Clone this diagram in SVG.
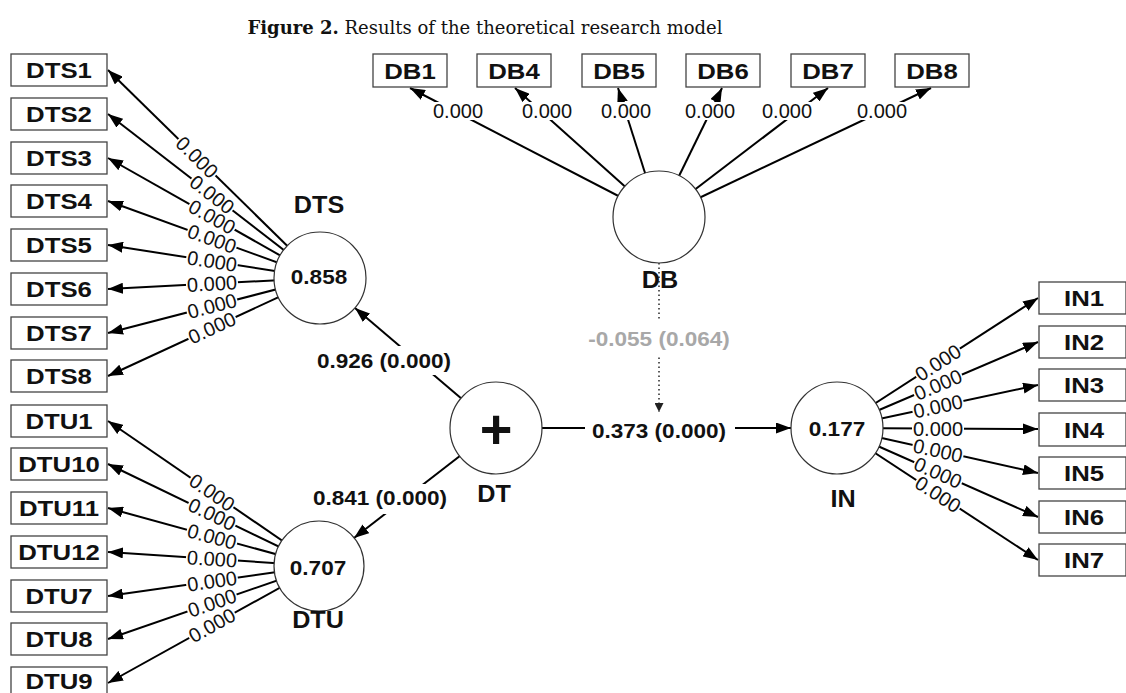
<svg xmlns="http://www.w3.org/2000/svg" width="1126" height="693" viewBox="0 0 1126 693">
  <defs>
    <marker id="arr" markerWidth="15" markerHeight="11" refX="15" refY="5.5" orient="auto" markerUnits="userSpaceOnUse">
      <path d="M0,0 L15,5.5 L0,11 z" fill="#000"/>
    </marker>
    <marker id="arrS" markerWidth="9" markerHeight="9" refX="9" refY="4.5" orient="auto" markerUnits="userSpaceOnUse">
      <path d="M0,0 L9,4.5 L0,9 z" fill="#222"/>
    </marker>
  </defs>
  <style>
    .box { fill: #fff; stroke: #444; stroke-width: 1.3; }
    .bt { font-family: "Liberation Sans", Arial, sans-serif; font-weight: bold; font-size: 23px; fill: #111; text-anchor: middle; }
    .lv { fill: #fff; stroke: #333; stroke-width: 1.2; }
    .name { font-family: "Liberation Sans", Arial, sans-serif; font-weight: bold; font-size: 24px; fill: #111; text-anchor: middle; }
    .val { font-family: "Liberation Sans", Arial, sans-serif; font-weight: bold; font-size: 20.5px; fill: #111; text-anchor: middle; }
    .ln { stroke: #000; stroke-width: 2; fill: none; marker-end: url(#arr); }
    .dot { stroke: #333; stroke-width: 1.6; stroke-dasharray: 1.5 3; fill: none; marker-end: url(#arrS); }
    .bg { fill: #fff; }
    .w { font-family: "Liberation Sans", Arial, sans-serif; font-size: 20px; fill: #111; text-anchor: middle; }
    .path { font-family: "Liberation Sans", Arial, sans-serif; font-weight: bold; font-size: 20.5px; fill: #111; text-anchor: middle; }
    .grey { fill: #a8a8a8; }
    .title { font-family: "DejaVu Serif", "Liberation Serif", serif; font-size: 18px; fill: #111; text-anchor: middle; }
  </style>

  <rect width="1126" height="693" fill="#fff"/>

  <text class="title" x="485" y="34"><tspan font-weight="bold">Figure 2.</tspan> Results of the theoretical research model</text>

  <!-- connectors: loadings, paths and moderating effect -->
  <g id="connectors">
    <!-- DTS loadings -->
    <line class="ln" x1="320" y1="278" x2="108" y2="70"/>
    <line class="ln" x1="320" y1="278" x2="108" y2="114"/>
    <line class="ln" x1="320" y1="278" x2="108" y2="158"/>
    <line class="ln" x1="320" y1="278" x2="108" y2="201"/>
    <line class="ln" x1="320" y1="278" x2="108" y2="245"/>
    <line class="ln" x1="320" y1="278" x2="108" y2="289"/>
    <line class="ln" x1="320" y1="278" x2="108" y2="333"/>
    <line class="ln" x1="320" y1="278" x2="108" y2="376"/>
    <!-- DTU loadings -->
    <line class="ln" x1="319" y1="566" x2="108" y2="421"/>
    <line class="ln" x1="319" y1="566" x2="108" y2="464"/>
    <line class="ln" x1="319" y1="566" x2="108" y2="508"/>
    <line class="ln" x1="319" y1="566" x2="108" y2="552"/>
    <line class="ln" x1="319" y1="566" x2="108" y2="596"/>
    <line class="ln" x1="319" y1="566" x2="108" y2="639"/>
    <line class="ln" x1="319" y1="566" x2="108" y2="683"/>
    <!-- DB loadings -->
    <line class="ln" x1="659" y1="217" x2="410" y2="88"/>
    <line class="ln" x1="659" y1="217" x2="515" y2="88"/>
    <line class="ln" x1="659" y1="217" x2="618" y2="88"/>
    <line class="ln" x1="659" y1="217" x2="722" y2="88"/>
    <line class="ln" x1="659" y1="217" x2="828" y2="88"/>
    <line class="ln" x1="659" y1="217" x2="931" y2="88"/>
    <!-- IN loadings -->
    <line class="ln" x1="837" y1="428" x2="1038" y2="298"/>
    <line class="ln" x1="837" y1="428" x2="1038" y2="342"/>
    <line class="ln" x1="837" y1="428" x2="1038" y2="385"/>
    <line class="ln" x1="837" y1="428" x2="1038" y2="429"/>
    <line class="ln" x1="837" y1="428" x2="1038" y2="473"/>
    <line class="ln" x1="837" y1="428" x2="1038" y2="517"/>
    <line class="ln" x1="837" y1="428" x2="1038" y2="560"/>
    <!-- structural paths -->
    <line class="ln" x1="496" y1="428" x2="355" y2="308"/>
    <line class="ln" x1="496" y1="428" x2="354" y2="538"/>
    <line class="ln" x1="496" y1="428" x2="791" y2="428"/>
    <line class="dot" x1="659" y1="263" x2="659" y2="412"/>

    <!-- DTS loading labels -->
    <g transform="translate(197,157.3) rotate(44.5)"><rect class="bg" x="-26" y="-8" width="52" height="16"/><text class="w" y="7">0.000</text></g>
    <g transform="translate(212,194.5) rotate(37.7)"><rect class="bg" x="-26" y="-8" width="52" height="16"/><text class="w" y="7">0.000</text></g>
    <g transform="translate(212,216.9) rotate(29.5)"><rect class="bg" x="-26" y="-8" width="52" height="16"/><text class="w" y="7">0.000</text></g>
    <g transform="translate(212,238.8) rotate(20)"><rect class="bg" x="-26" y="-8" width="52" height="16"/><text class="w" y="7">0.000</text></g>
    <g transform="translate(212,261.2) rotate(8.9)"><rect class="bg" x="-26" y="-8" width="52" height="16"/><text class="w" y="7">0.000</text></g>
    <g transform="translate(212,283.6) rotate(-3)"><rect class="bg" x="-26" y="-8" width="52" height="16"/><text class="w" y="7">0.000</text></g>
    <g transform="translate(212,306) rotate(-14.5)"><rect class="bg" x="-26" y="-8" width="52" height="16"/><text class="w" y="7">0.000</text></g>
    <g transform="translate(212,327.9) rotate(-24.8)"><rect class="bg" x="-26" y="-8" width="52" height="16"/><text class="w" y="7">0.000</text></g>
    <!-- DTU loading labels -->
    <g transform="translate(212,492.5) rotate(34.5)"><rect class="bg" x="-26" y="-8" width="52" height="16"/><text class="w" y="7">0.000</text></g>
    <g transform="translate(212,514.3) rotate(25.8)"><rect class="bg" x="-26" y="-8" width="52" height="16"/><text class="w" y="7">0.000</text></g>
    <g transform="translate(212,536.6) rotate(15.4)"><rect class="bg" x="-26" y="-8" width="52" height="16"/><text class="w" y="7">0.000</text></g>
    <g transform="translate(212,558.9) rotate(3.8)"><rect class="bg" x="-26" y="-8" width="52" height="16"/><text class="w" y="7">0.000</text></g>
    <g transform="translate(212,581.2) rotate(-8.1)"><rect class="bg" x="-26" y="-8" width="52" height="16"/><text class="w" y="7">0.000</text></g>
    <g transform="translate(212,603) rotate(-19.1)"><rect class="bg" x="-26" y="-8" width="52" height="16"/><text class="w" y="7">0.000</text></g>
    <g transform="translate(212,625.3) rotate(-29)"><rect class="bg" x="-26" y="-8" width="52" height="16"/><text class="w" y="7">0.000</text></g>
    <!-- DB loading labels -->
    <g transform="translate(458,111)"><rect class="bg" x="-27" y="-9" width="54" height="18"/><text class="w" y="7">0.000</text></g>
    <g transform="translate(547,111)"><rect class="bg" x="-27" y="-9" width="54" height="18"/><text class="w" y="7">0.000</text></g>
    <g transform="translate(626,111)"><rect class="bg" x="-27" y="-9" width="54" height="18"/><text class="w" y="7">0.000</text></g>
    <g transform="translate(710,111)"><rect class="bg" x="-27" y="-9" width="54" height="18"/><text class="w" y="7">0.000</text></g>
    <g transform="translate(787,111)"><rect class="bg" x="-27" y="-9" width="54" height="18"/><text class="w" y="7">0.000</text></g>
    <g transform="translate(882,111)"><rect class="bg" x="-27" y="-9" width="54" height="18"/><text class="w" y="7">0.000</text></g>
    <!-- IN loading labels -->
    <g transform="translate(938,362.7) rotate(-32.9)"><rect class="bg" x="-26" y="-8" width="52" height="16"/><text class="w" y="7">0.000</text></g>
    <g transform="translate(938,384.8) rotate(-23.2)"><rect class="bg" x="-26" y="-8" width="52" height="16"/><text class="w" y="7">0.000</text></g>
    <g transform="translate(938,406.4) rotate(-12.1)"><rect class="bg" x="-26" y="-8" width="52" height="16"/><text class="w" y="7">0.000</text></g>
    <g transform="translate(938,428.5)"><rect class="bg" x="-26" y="-8" width="52" height="16"/><text class="w" y="7">0.000</text></g>
    <g transform="translate(938,450.6) rotate(12.6)"><rect class="bg" x="-26" y="-8" width="52" height="16"/><text class="w" y="7">0.000</text></g>
    <g transform="translate(938,472.7) rotate(23.9)"><rect class="bg" x="-26" y="-8" width="52" height="16"/><text class="w" y="7">0.000</text></g>
    <g transform="translate(938,494.3) rotate(33.3)"><rect class="bg" x="-26" y="-8" width="52" height="16"/><text class="w" y="7">0.000</text></g>

    <!-- path coefficient labels -->
    <rect class="bg" x="316" y="346" width="138" height="29"/>
    <text class="path" transform="translate(384,368) scale(1.1,1)">0.926 (0.000)</text>
    <rect class="bg" x="311" y="484" width="138" height="30"/>
    <text class="path" transform="translate(380,505) scale(1.1,1)">0.841 (0.000)</text>
    <rect class="bg" x="585" y="416" width="150" height="26"/>
    <text class="path" transform="translate(659,438) scale(1.1,1)">0.373 (0.000)</text>
    <rect class="bg" x="585" y="319" width="149" height="37"/>
    <text class="path grey" transform="translate(659,346) scale(1.1,1)">-0.055 (0.064)</text>
  </g>

  <!-- DTS construct and indicators -->
  <g id="DTS">
    <circle class="lv" cx="320" cy="278" r="46"/>
    <text class="val" transform="translate(319,284) scale(1.1,1)">0.858</text>
    <text class="name" transform="translate(319,213) scale(1.05,1)">DTS</text>
    <rect class="box" x="11" y="54" width="96" height="32"/>
    <text class="bt" transform="translate(59,78) scale(1.12,1)">DTS1</text>
    <rect class="box" x="11" y="98" width="96" height="32"/>
    <text class="bt" transform="translate(59,122) scale(1.12,1)">DTS2</text>
    <rect class="box" x="11" y="142" width="96" height="32"/>
    <text class="bt" transform="translate(59,166) scale(1.12,1)">DTS3</text>
    <rect class="box" x="11" y="185" width="96" height="32"/>
    <text class="bt" transform="translate(59,209) scale(1.12,1)">DTS4</text>
    <rect class="box" x="11" y="229" width="96" height="32"/>
    <text class="bt" transform="translate(59,253) scale(1.12,1)">DTS5</text>
    <rect class="box" x="11" y="273" width="96" height="32"/>
    <text class="bt" transform="translate(59,297) scale(1.12,1)">DTS6</text>
    <rect class="box" x="11" y="317" width="96" height="32"/>
    <text class="bt" transform="translate(59,341) scale(1.12,1)">DTS7</text>
    <rect class="box" x="11" y="360" width="96" height="32"/>
    <text class="bt" transform="translate(59,384) scale(1.12,1)">DTS8</text>
  </g>

  <!-- DTU construct and indicators -->
  <g id="DTU">
    <circle class="lv" cx="319" cy="566" r="45"/>
    <text class="val" transform="translate(318,575) scale(1.1,1)">0.707</text>
    <text class="name" transform="translate(318,628) scale(1.05,1)">DTU</text>
    <rect class="box" x="11" y="405" width="96" height="32"/>
    <text class="bt" transform="translate(59,429) scale(1.12,1)">DTU1</text>
    <rect class="box" x="11" y="448" width="96" height="32"/>
    <text class="bt" transform="translate(59,472) scale(1.12,1)">DTU10</text>
    <rect class="box" x="11" y="492" width="96" height="32"/>
    <text class="bt" transform="translate(59,516) scale(1.12,1)">DTU11</text>
    <rect class="box" x="11" y="536" width="96" height="32"/>
    <text class="bt" transform="translate(59,560) scale(1.12,1)">DTU12</text>
    <rect class="box" x="11" y="580" width="96" height="32"/>
    <text class="bt" transform="translate(59,604) scale(1.12,1)">DTU7</text>
    <rect class="box" x="11" y="623" width="96" height="32"/>
    <text class="bt" transform="translate(59,647) scale(1.12,1)">DTU8</text>
    <rect class="box" x="11" y="667" width="96" height="32"/>
    <text class="bt" transform="translate(59,689) scale(1.12,1)">DTU9</text>
  </g>

  <!-- DT higher-order construct -->
  <g id="DT">
    <circle class="lv" cx="496" cy="428" r="46"/>
    <text class="name" x="496" y="448" style="font-size:56px">+</text>
    <text class="name" transform="translate(494,502) scale(1.05,1)">DT</text>
  </g>

  <!-- DB moderator and indicators -->
  <g id="DB">
    <circle class="lv" cx="659" cy="217" r="46"/>
    <text class="name" transform="translate(660,288) scale(1.05,1)">DB</text>
    <rect class="box" x="373" y="54" width="74" height="33"/>
    <text class="bt" transform="translate(410,79) scale(1.12,1)">DB1</text>
    <rect class="box" x="477" y="54" width="74" height="33"/>
    <text class="bt" transform="translate(514,79) scale(1.12,1)">DB4</text>
    <rect class="box" x="582" y="54" width="74" height="33"/>
    <text class="bt" transform="translate(619,79) scale(1.12,1)">DB5</text>
    <rect class="box" x="686" y="54" width="74" height="33"/>
    <text class="bt" transform="translate(723,79) scale(1.12,1)">DB6</text>
    <rect class="box" x="791" y="54" width="74" height="33"/>
    <text class="bt" transform="translate(828,79) scale(1.12,1)">DB7</text>
    <rect class="box" x="895" y="54" width="74" height="33"/>
    <text class="bt" transform="translate(932,79) scale(1.12,1)">DB8</text>
  </g>

  <!-- IN construct and indicators -->
  <g id="IN">
    <circle class="lv" cx="837" cy="428" r="46"/>
    <text class="val" transform="translate(837,436) scale(1.1,1)">0.177</text>
    <text class="name" transform="translate(843,507) scale(1.05,1)">IN</text>
    <rect class="box" x="1039" y="282" width="87" height="32"/>
    <text class="bt" transform="translate(1084,306) scale(1.12,1)">IN1</text>
    <rect class="box" x="1039" y="326" width="87" height="32"/>
    <text class="bt" transform="translate(1084,350) scale(1.12,1)">IN2</text>
    <rect class="box" x="1039" y="369" width="87" height="32"/>
    <text class="bt" transform="translate(1084,393) scale(1.12,1)">IN3</text>
    <rect class="box" x="1039" y="413" width="87" height="33"/>
    <text class="bt" transform="translate(1084,438) scale(1.12,1)">IN4</text>
    <rect class="box" x="1039" y="457" width="87" height="32"/>
    <text class="bt" transform="translate(1084,481) scale(1.12,1)">IN5</text>
    <rect class="box" x="1039" y="501" width="87" height="32"/>
    <text class="bt" transform="translate(1084,525) scale(1.12,1)">IN6</text>
    <rect class="box" x="1039" y="544" width="87" height="32"/>
    <text class="bt" transform="translate(1084,568) scale(1.12,1)">IN7</text>
  </g>
</svg>
